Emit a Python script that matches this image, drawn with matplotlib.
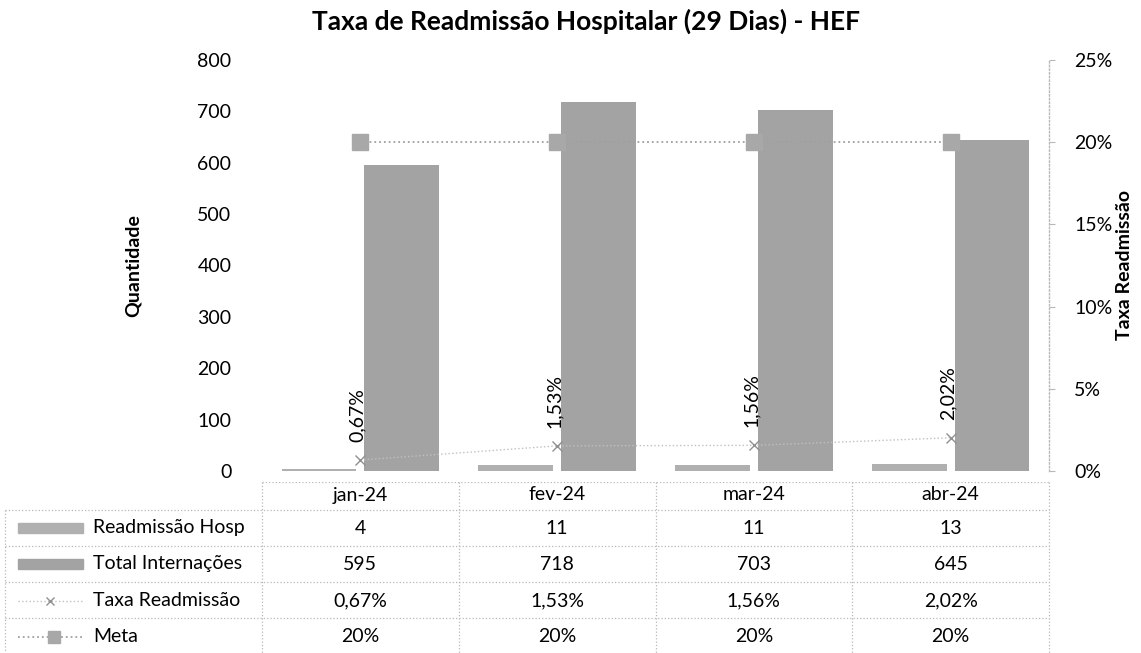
import numpy as np
import matplotlib.pyplot as plt
from matplotlib.patches import Rectangle
from matplotlib.ticker import FuncFormatter

# =====================
# dados
# =====================

meses = ["jan-24", "fev-24", "mar-24", "abr-24"]
readmissao = [4, 11, 11, 13]
internacoes = [595, 718, 703, 645]
taxa = [0.0067, 0.0153, 0.0156, 0.0202]
meta = [0.20, 0.20, 0.20, 0.20]

taxa_txt = ["0,67%", "1,53%", "1,56%", "2,02%"]
meta_txt = ["20%", "20%", "20%", "20%"]

plt.rcParams['font.family'] = ['Lato', 'DejaVu Sans']

cinza_bar1 = '#b0b0b0'
cinza_bar2 = '#a3a3a3'
cinza_lin = '#a0a0a0'
grade = '#b8b8b8'

W, H = 1141, 653
fig = plt.figure(figsize=(W/100, H/100), dpi=100)

# area do grafico (pixels)
x0, x1 = 262, 1049
y_top, y_bot = 60, 471
ax = fig.add_axes([x0/W, 1 - y_bot/H, (x1 - x0)/W, (y_bot - y_top)/H])

x = np.arange(len(meses))
larg = 0.38
ax.bar(x - 0.21, readmissao, larg, color=cinza_bar1, zorder=2)
ax.bar(x + 0.21, internacoes, larg, color=cinza_bar2, zorder=2)

ax.set_xlim(-0.5, len(meses) - 0.5)
ax.set_ylim(0, 800)
ax.set_yticks(range(0, 801, 100))
ax.set_xticks([])
for s in ax.spines.values():
    s.set_visible(False)
ax.tick_params(axis='y', length=0, pad=22, labelsize=14)
ax.set_ylabel("Quantidade", fontsize=14, fontweight='bold', labelpad=40)

# eixo secundario
ax2 = ax.twinx()
ax2.set_ylim(0, 0.25)
ax2.set_yticks(np.arange(0, 0.251, 0.05))
ax2.yaxis.set_major_formatter(FuncFormatter(lambda v, p: f"{v*100:.0f}%"))
for s in ['left', 'top', 'bottom']:
    ax2.spines[s].set_visible(False)
ax2.spines['right'].set_color(grade)
ax2.spines['right'].set_linestyle(':')
ax2.spines['right'].set_linewidth(1)
ax2.tick_params(axis='y', length=4, color=grade, pad=14, labelsize=14)

ax2.plot(x, meta, linestyle=':', color=cinza_lin, lw=1.3, marker='s',
         markersize=11, markerfacecolor='#a8a8a8', markeredgecolor='#a8a8a8', zorder=3)
ax2.plot(x, taxa, linestyle=':', color='#c0c0c0', lw=1, marker='x',
         markersize=7, markeredgecolor='#909090', zorder=3)
for xi, v, t in zip(x, taxa, taxa_txt):
    ax2.annotate(t, (xi, v), xytext=(-2, 13), textcoords='offset points',
                 rotation=90, ha='center', va='bottom', fontsize=14)

fig.text(1125/W, 1 - 265/H, "Taxa Readmissão", rotation=90,
         ha='center', va='center', fontsize=14, fontweight='bold')
fig.text(586/W, 1 - 21/H, "Taxa de Readmissão Hospitalar (29 Dias) - HEF",
         ha='center', va='center', fontsize=19, fontweight='bold')

# =====================
# tabela de dados
# =====================

tb = fig.add_axes([0, 0, 1, 1 - 482/H])
tb.set_xlim(0, W)
tb.set_ylim(H, 482)
tb.axis('off')

cw = (x1 - x0) / len(meses)
centros = [x0 + (i + 0.5) * cw for i in range(len(meses))]
linhas_y = [482, 510, 546, 582, 618, 653]
txt_y = [495, 528, 564, 601, 637]

kw = dict(color=grade, linestyle=':', lw=0.9)
tb.plot([x0, x1], [482, 482], **kw)
for yy in linhas_y[1:-1]:
    tb.plot([5, x1], [yy, yy], **kw)
tb.plot([5, 5], [510, 653], **kw)
for i in range(len(meses) + 1):
    xx = x0 + i * cw
    tb.plot([xx, xx], [482, 653], **kw)

for c, m in zip(centros, meses):
    tb.text(c, txt_y[0], m, ha='center', va='center', fontsize=14)
linhas = [[str(v) for v in readmissao], [str(v) for v in internacoes], taxa_txt, meta_txt]
for row, yy in zip(linhas, txt_y[1:]):
    for c, t in zip(centros, row):
        tb.text(c, yy, t, ha='center', va='center', fontsize=14)

nomes = ["Readmissão Hosp", "Total Internações", "Taxa Readmissão", "Meta"]
for n, yy in zip(nomes, txt_y[1:]):
    tb.text(93, yy, n, ha='left', va='center', fontsize=14)

tb.add_patch(Rectangle((18, txt_y[1] - 5), 65, 10, color=cinza_bar1))
tb.add_patch(Rectangle((18, txt_y[2] - 5), 65, 10, color=cinza_bar2))
tb.plot([18, 83], [txt_y[3], txt_y[3]], linestyle=':', color='#c0c0c0', lw=1)
tb.plot([50], [txt_y[3]], marker='x', markersize=6, markeredgecolor='#909090')
tb.plot([18, 83], [txt_y[4], txt_y[4]], linestyle=':', color=cinza_lin, lw=1.3)
tb.plot([54], [txt_y[4]], marker='s', markersize=8, color='#a8a8a8')

fig.savefig("out.png", dpi=100)
